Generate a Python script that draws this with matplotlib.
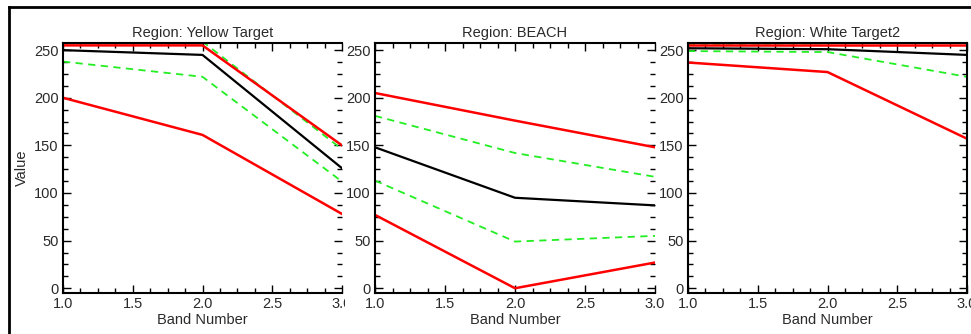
import matplotlib
matplotlib.use("Agg")
import matplotlib.pyplot as plt
from matplotlib.patches import Rectangle
from matplotlib.lines import Line2D
from matplotlib.ticker import MultipleLocator

plt.rcParams['font.family'] = ['Liberation Sans', 'DejaVu Sans']

bands = [1.0, 2.0, 3.0]
titles = ["Region: Yellow Target", "Region: BEACH", "Region: White Target2"]

# Yellow Target
yt_max = [255, 255, 150]
yt_plus = [262, 259, 146]
yt_mean = [250, 245, 126]
yt_minus = [238, 222, 112]
yt_min = [200, 161, 78]

# BEACH
be_max = [205, 176, 148]
be_plus = [181, 142, 117]
be_mean = [148, 95, 87]
be_minus = [113, 49, 55]
be_min = [77, 0, 27]

# White Target2
wt_max = [255, 255, 255]
wt_plus = [256.5, 257, 272]
wt_mean = [252, 251, 245]
wt_minus = [249, 248, 222]
wt_min = [237, 227, 157]

regions = [
    (yt_max, yt_plus, yt_mean, yt_minus, yt_min),
    (be_max, be_plus, be_mean, be_minus, be_min),
    (wt_max, wt_plus, wt_mean, wt_minus, wt_min),
]

x_ticks = [1.0, 1.5, 2.0, 2.5, 3.0]
x_ticklabels = ["1.0", "1.5", "2.0", "2.5", "3.0"]
y_ticks = [0, 50, 100, 150, 200, 250]

W, H = 971, 334
fig = plt.figure(figsize=(W / 100, H / 100), dpi=100)

# pixel boxes: (left, right)
boxes = [(63, 342), (375, 655), (688, 967)]
top_px, bot_px = 43, 293

txtc = '#2a2a2a'
fs = 10.5
axes = []
for i, ((l, r), data) in enumerate(zip(boxes, regions)):
    ax = fig.add_axes([l / W, 1 - bot_px / H, (r - l) / W, (bot_px - top_px) / H])
    ax.set_zorder(2 if i > 0 else 0)
    mx, pl, mn, mi, mnm = data
    ax.plot(bands, pl, color='#22ee22', lw=1.3, ls=(0, (4, 3)))
    ax.plot(bands, mi, color='#22ee22', lw=1.3, ls=(0, (4, 3)))
    ax.plot(bands, mn, color='black', lw=1.6)
    ax.plot(bands, mx, color='#ff0000', lw=1.8)
    ax.plot(bands, mnm, color='#ff0000', lw=1.8)
    ax.set_xlim(1.0, 3.0)
    ax.set_ylim(-5, 257.5)
    ax.set_xticks(x_ticks)
    ax.set_xticklabels(x_ticklabels)
    ax.set_yticks(y_ticks)
    ax.xaxis.set_minor_locator(MultipleLocator(0.125))
    ax.yaxis.set_minor_locator(MultipleLocator(12.5))
    ax.tick_params(which='both', direction='in', top=True, right=True,
                   colors='black', labelcolor=txtc, labelsize=fs, width=1.0)
    ax.tick_params(which='major', length=6, pad=3)
    ax.tick_params(which='minor', length=3.5)
    for s in ax.spines.values():
        s.set_linewidth(1.5)
    if i < 2:
        ax.spines['right'].set_visible(False)
    ax.set_title(titles[i], fontsize=fs, color=txtc, pad=4)
    ax.set_xlabel("Band Number", fontsize=fs, color=txtc, labelpad=1)
    axes.append(ax)

axes[0].set_ylabel("Value", fontsize=fs, color=txtc, labelpad=4)

# white masks clipping the right-hand "3.0" labels of panels 1 and 2
for x0, x1 in [(345, 374), (657, 687)]:
    fig.add_artist(Rectangle((x0 / W, 0), (x1 - x0) / W, 1 - 30 / H,
                             transform=fig.transFigure, facecolor='white',
                             edgecolor='none', zorder=1))

# outer frame (left and top edges)
fig.add_artist(Line2D([8.5 / W, 8.5 / W], [0, 1 - 7 / H], transform=fig.transFigure,
                      color='black', lw=2, zorder=5))
fig.add_artist(Line2D([8.5 / W, 1], [1 - 7 / H, 1 - 7 / H], transform=fig.transFigure,
                      color='black', lw=2, zorder=5))

fig.savefig("out.png", dpi=100)
